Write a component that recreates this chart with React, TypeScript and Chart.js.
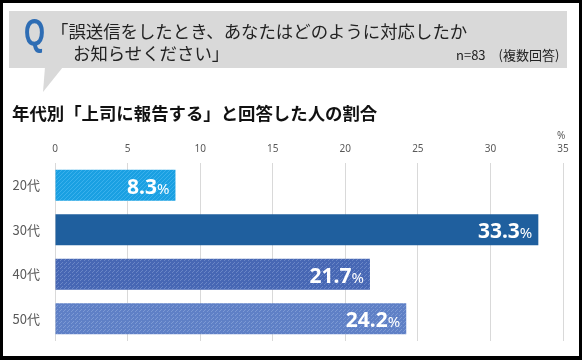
import React, { useEffect, useRef } from "react";
import { Chart, registerables } from "chart.js";

Chart.register(...registerables);

const categories = ["20代", "30代", "40代", "50代"];
const values = [8.3, 33.3, 21.7, 24.2];
const xMin = 0;
const xMax = 35;
const xStep = 5;

const questionLine1 = "「誤送信をしたとき、あなたはどのように対応したか";
const questionLine2 = "お知らせください」";
const sampleNote = "n=83　(複数回答)";
const chartTitle = "年代別「上司に報告する」と回答した人の割合";
const unitLabel = "%";

function makePattern(
  base: string,
  fg: string,
  kind: "hatch" | "check" | "check2"
): CanvasPattern | string {
  const c = document.createElement("canvas");
  const size = 4;
  c.width = size;
  c.height = size;
  const g = c.getContext("2d");
  if (!g) return base;
  g.fillStyle = base;
  g.fillRect(0, 0, size, size);
  g.fillStyle = fg;
  if (kind === "hatch") {
    for (let i = 0; i < size; i++) {
      g.fillRect((size - 1 - i + size) % size, i, 1, 1);
    }
  } else if (kind === "check") {
    g.fillRect(0, 0, 1, 1);
    g.fillRect(2, 2, 1, 1);
    g.fillRect(1, 3, 1, 1);
  } else {
    g.fillRect(1, 1, 1, 1);
    g.fillRect(3, 3, 1, 1);
    g.fillRect(0, 2, 1, 1);
  }
  const p = g.createPattern(c, "repeat");
  return p || base;
}

const labelPlugin = {
  id: "barValueLabels",
  afterDatasetsDraw(chart: any) {
    const ctx = chart.ctx as CanvasRenderingContext2D;
    const meta = chart.getDatasetMeta(0);
    ctx.save();
    ctx.fillStyle = "#ffffff";
    ctx.textBaseline = "alphabetic";
    ctx.textAlign = "left";
    meta.data.forEach((el: any, i: number) => {
      const v = chart.data.datasets[0].data[i] as number;
      const num = v.toFixed(1);
      ctx.font = "15px 'Noto Sans'";
      const pw = ctx.measureText("%").width;
      ctx.font = "bold 21px 'Noto Sans'";
      const nw = ctx.measureText(num).width;
      const right = el.x - 6;
      const base = el.y + 8.5;
      ctx.font = "bold 21px 'Noto Sans'";
      ctx.fillText(num, right - pw - nw, base);
      ctx.font = "15px 'Noto Sans'";
      ctx.fillText("%", right - pw, base);
    });
    ctx.restore();
  },
};

export default function App() {
  const ref = useRef<HTMLCanvasElement | null>(null);

  useEffect(() => {
    if (!ref.current) return;
    const colors = [
      makePattern("#1aa0e2", "#3ab0ec", "hatch"),
      "#1f5f9e",
      makePattern("#4767b4", "#6a86c6", "check"),
      makePattern("#5f80c6", "#7d9ad4", "check2"),
    ];
    const chart = new Chart(ref.current, {
      type: "bar",
      data: {
        labels: categories,
        datasets: [
          {
            data: values,
            backgroundColor: colors as any,
            borderWidth: 0,
            barPercentage: 0.7,
            categoryPercentage: 1,
          },
        ],
      },
      options: {
        indexAxis: "y",
        responsive: false,
        animation: false,
        devicePixelRatio: 1,
        layout: { padding: { top: 135, right: 19, bottom: 19, left: 0 } },
        plugins: {
          legend: { display: false },
          tooltip: { enabled: false },
          title: { display: false },
        },
        scales: {
          x: {
            position: "top",
            min: xMin,
            max: xMax,
            ticks: {
              stepSize: xStep,
              color: "#595959",
              font: { size: 10, family: "'Noto Sans', sans-serif" },
              padding: 8,
            },
            grid: { color: "#d9d9d9", drawTicks: false, lineWidth: 1 },
            border: { display: false },
            afterFit: (s: any) => {
              s.height = 28;
            },
          },
          y: {
            ticks: {
              color: "#595959",
              font: { size: 13, family: "'Noto Sans CJK JP', sans-serif" },
              padding: 7,
            },
            grid: { display: false },
            border: { display: false },
            afterFit: (s: any) => {
              s.width = 55;
            },
          },
        },
      },
      plugins: [labelPlugin],
    });
    return () => chart.destroy();
  }, []);

  const jp = "'Noto Sans CJK JP', 'Noto Sans', sans-serif";

  return (
    <div
      style={{
        position: "absolute",
        left: 0,
        top: 0,
        width: 582,
        height: 360,
        background: "#ffffff",
        overflow: "hidden",
        fontFamily: jp,
      }}
    >
      <canvas
        ref={ref}
        width={582}
        height={360}
        style={{ position: "absolute", left: 0, top: 0, width: 582, height: 360 }}
      />
      <div
        style={{
          position: "absolute",
          left: 9,
          top: 11,
          width: 558,
          height: 57,
          background: "#d9d9d9",
        }}
      />
      <div
        style={{
          position: "absolute",
          left: 0,
          top: 0,
          width: 582,
          height: 360,
          background: "#d9d9d9",
          clipPath: "polygon(45px 67px, 63px 67px, 43px 92px)",
        }}
      />
      <div
        style={{
          position: "absolute",
          left: 24,
          top: 13,
          fontFamily: "'Liberation Sans', sans-serif",
          fontWeight: "bold",
          fontSize: 36,
          lineHeight: "40px",
          color: "#2e6db4",
          transform: "scaleX(0.75)",
          transformOrigin: "left top",
        }}
      >
        Q
      </div>
      <div
        style={{
          position: "absolute",
          left: 51,
          top: 20,
          fontSize: 17.4,
          lineHeight: "22px",
          color: "#222222",
          whiteSpace: "nowrap",
        }}
      >
        {questionLine1}
      </div>
      <div
        style={{
          position: "absolute",
          left: 73,
          top: 42,
          fontSize: 17.4,
          lineHeight: "22px",
          color: "#222222",
          whiteSpace: "nowrap",
        }}
      >
        {questionLine2}
      </div>
      <div
        style={{
          position: "absolute",
          left: 456,
          top: 46,
          fontSize: 13,
          lineHeight: "18px",
          color: "#222222",
          whiteSpace: "nowrap",
        }}
      >
        {sampleNote}
      </div>
      <div
        style={{
          position: "absolute",
          left: 12,
          top: 102,
          fontSize: 17.4,
          fontWeight: "bold",
          lineHeight: "22px",
          color: "#111111",
          whiteSpace: "nowrap",
        }}
      >
        {chartTitle}
      </div>
      <div
        style={{
          position: "absolute",
          left: 557,
          top: 128,
          fontSize: 10,
          lineHeight: "14px",
          color: "#595959",
          fontFamily: "'Noto Sans', sans-serif",
        }}
      >
        {unitLabel}
      </div>
      <div
        style={{
          position: "absolute",
          left: 0,
          top: 0,
          width: 582,
          height: 360,
          boxSizing: "border-box",
          borderTop: "3px solid #000",
          borderLeft: "3px solid #000",
          borderRight: "3px solid #000",
          borderBottom: "4px solid #000",
          pointerEvents: "none",
        }}
      />
    </div>
  );
}
